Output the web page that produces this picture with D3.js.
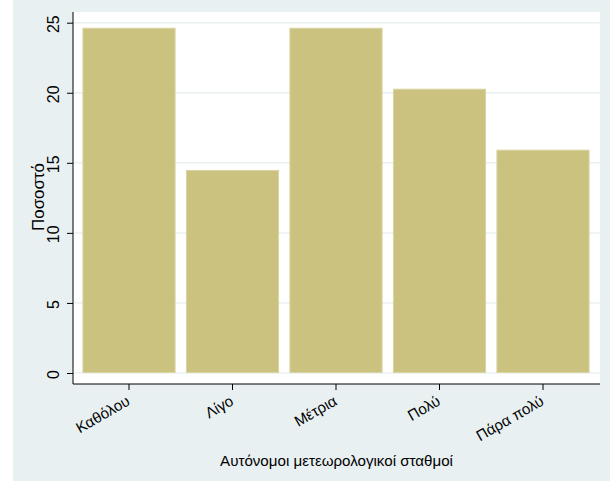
<!DOCTYPE html>
<html><head><meta charset="utf-8">
<script src="https://cdn.jsdelivr.net/npm/d3@7"></script>
<style>body{margin:0;background:#fff}svg{display:block}text{font-family:"Liberation Sans",Arial,sans-serif;fill:#000}</style>
</head><body>
<script>
const categories = ["Καθόλου","Λίγο","Μέτρια","Πολύ","Πάρα πολύ"];
const values = [24.64, 14.49, 24.64, 20.29, 15.94];
const yTicks = [0,5,10,15,20,25];
const xTitle = "Αυτόνομοι μετεωρολογικοί σταθμοί";
const yTitle = "Ποσοστό";

const W=610,H=481;
const svg=d3.select("body").append("svg").attr("width",W).attr("height",H);
svg.append("rect").attr("x",13).attr("y",0).attr("width",W-13).attr("height",H).attr("fill","#e9f0f2");
const pl=73, pr=600, pt=12, pb=384;
svg.append("rect").attr("x",pl).attr("y",pt).attr("width",pr-pl).attr("height",pb-pt).attr("fill","#fff");

const y=d3.scaleLinear().domain([0,25]).range([373,22.7]);
const x=d3.scaleBand().domain(categories).range([77.25,594.75]).paddingInner(0.1).paddingOuter(0.05);

function fit(sel, target){
  const fs=+sel.attr("font-size");
  const w=sel.node().getComputedTextLength();
  sel.attr("font-size", fs*target/w);
  return fs*target/w;
}

// gridlines
svg.append("g").selectAll("line").data(yTicks).join("line")
  .attr("x1",pl).attr("x2",pr).attr("y1",d=>y(d)).attr("y2",d=>y(d))
  .attr("stroke","#eaf0f2").attr("stroke-width",1.5);

// bars
svg.append("g").selectAll("rect").data(values).join("rect")
  .attr("x",(d,i)=>x(categories[i])+0.5)
  .attr("width",x.bandwidth()-1)
  .attr("y",d=>y(d)+0.5)
  .attr("height",d=>y(0)-y(d)-1)
  .attr("fill","#cac27e").attr("stroke","#d9d4a3").attr("stroke-width",1);

// titles
const xt=svg.append("text").attr("x",336.5).attr("y",466).attr("text-anchor","middle").attr("font-size",14).text(xTitle);
const fsx=fit(xt,233);
const yt=svg.append("text").attr("transform","translate(44,197) rotate(-90)").attr("text-anchor","middle").attr("font-size",14).text(yTitle);
fit(yt,68);

// y axis
const ya=svg.append("g").attr("transform",`translate(${pl},0)`)
  .call(d3.axisLeft(y).tickValues(yTicks).tickSize(6).tickPadding(4));
ya.select(".domain").attr("d",`M0,${pt}V${pb}`).attr("stroke","#000");
ya.selectAll(".tick line").attr("stroke","#000");
ya.selectAll(".tick text").attr("font-size",16).attr("text-anchor","middle")
  .attr("transform","rotate(-90)").attr("x",-1).attr("y",-13.7).attr("dy","0");

// x axis
const xa=svg.append("g").attr("transform",`translate(0,${pb})`)
  .call(d3.axisBottom(x).tickSize(6).tickSizeOuter(0));
xa.select(".domain").attr("d",`M${pl},0H${pr}`).attr("stroke","#000");
xa.selectAll(".tick line").attr("stroke","#000");
xa.selectAll(".tick text").attr("font-size",fsx).attr("text-anchor","end")
  .attr("dy","0").attr("y",0).attr("transform","translate(2,20) rotate(-30)");
</script>
</body></html>
